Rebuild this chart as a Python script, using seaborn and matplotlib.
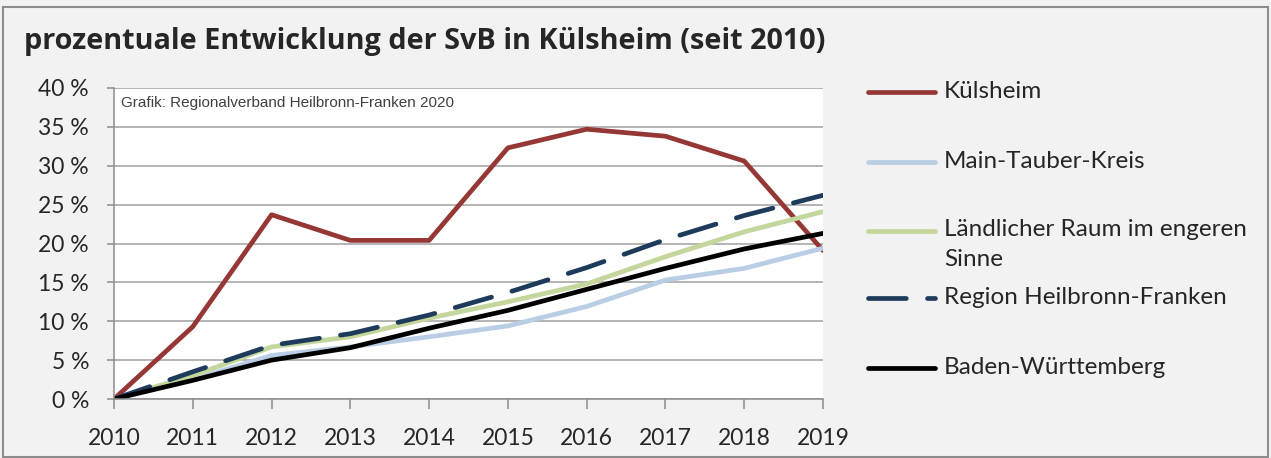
import pandas as pd
import matplotlib.pyplot as plt
import seaborn as sns
from matplotlib.lines import Line2D
from matplotlib.patches import Rectangle
from matplotlib.ticker import FuncFormatter

# values (percent change since 2010)
years = [2010, 2011, 2012, 2013, 2014, 2015, 2016, 2017, 2018, 2019]
kuelsheim = [0, 9.3, 23.7, 20.4, 20.4, 32.3, 34.7, 33.8, 30.6, 19.1]
main_tauber = [0, 2.5, 5.6, 6.7, 8.0, 9.4, 11.9, 15.3, 16.8, 19.4]
laendlich = [0, 3.0, 6.7, 8.0, 10.4, 12.5, 14.8, 18.3, 21.5, 24.1]
region_hnf = [0, 3.5, 6.9, 8.4, 10.8, 13.7, 16.9, 20.5, 23.6, 26.2]
bawue = [0, 2.4, 5.0, 6.6, 9.1, 11.4, 14.1, 16.8, 19.3, 21.3]

names = ['Külsheim', 'Main-Tauber-Kreis', 'Ländlicher Raum im engeren Sinne',
         'Region Heilbronn-Franken', 'Baden-Württemberg']
series = [kuelsheim, main_tauber, laendlich, region_hnf, bawue]
colors = ['#953735', '#b9cde5', '#c3d69b', '#1f3b5c', '#000000']

df = pd.concat([pd.DataFrame({'Jahr': years, 'Wert': vals, 'Gebiet': n})
                for n, vals in zip(names, series)])

sns.set_style('white')
plt.rcParams['font.family'] = ['Lato', 'DejaVu Sans']

fig = plt.figure(figsize=(12.71, 4.58), dpi=100, facecolor='#f2f2f2')
ax = fig.add_axes([114 / 1271, 1 - 399 / 458, (823 - 114) / 1271, (399 - 88) / 458])
ax.set_facecolor('white')

palette = dict(zip(names, colors))
dash_map = {n: '' for n in names}
dash_map['Region Heilbronn-Franken'] = (8, 4.5)
sns.lineplot(data=df, x='Jahr', y='Wert', hue='Gebiet', style='Gebiet',
             palette=palette, dashes=dash_map, linewidth=3.4, legend=False, ax=ax,
             solid_capstyle='round', dash_capstyle='round', solid_joinstyle='round')

ax.set_xlim(2010, 2019)
ax.set_ylim(0, 40)
ax.set_xticks(years)
ax.set_yticks(range(0, 41, 5))
ax.yaxis.set_major_formatter(FuncFormatter(lambda v, p: f'{int(v)} %'))
ax.grid(axis='y', color='#a0a0a0', linewidth=1.1)
ax.set_axisbelow(True)
ax.set_xlabel('')
ax.set_ylabel('')
for s in ['top', 'right']:
    ax.spines[s].set_visible(False)
for s in ['left', 'bottom']:
    ax.spines[s].set_color('#8c8c8c')
    ax.spines[s].set_linewidth(1.1)
ax.tick_params(axis='x', direction='out', length=7, width=1.1, color='#8c8c8c',
               labelsize=16.5, pad=14, bottom=True)
ax.tick_params(axis='y', direction='out', length=5, width=1.1, color='#8c8c8c',
               labelsize=16.5, pad=13, left=True)

ax.text(0.01, 0.975, 'Grafik: Regionalverband Heilbronn-Franken 2020',
        transform=ax.transAxes, ha='left', va='top', fontsize=11,
        color='#404040', family='Liberation Sans')

fig.text(24 / 1271, 1 - 42 / 458, 'prozentuale Entwicklung der SvB in Külsheim (seit 2010)',
         fontsize=20.8, fontweight='bold', ha='left', va='center',
         family=['Open Sans', 'DejaVu Sans'])

# legend drawn by hand to keep the Excel spacing
legend_labels = ['Külsheim', 'Main-Tauber-Kreis', 'Ländlicher Raum im engeren\nSinne',
                 'Region Heilbronn-Franken', 'Baden-Württemberg']
rows = [92, 162, 231, 298, 368]
for lab, col, y in zip(legend_labels, colors, rows):
    yf = 1 - y / 458
    ls = (0, (8, 4.5)) if lab.startswith('Region') else '-'
    fig.add_artist(Line2D([868 / 1271, 935 / 1271], [yf, yf], transform=fig.transFigure,
                          color=col, linewidth=3.4, linestyle=ls,
                          solid_capstyle='round', dash_capstyle='round'))
    if '\n' in lab:
        fig.text(944 / 1271, 1 - (y - 12) / 458, lab, fontsize=17.5, ha='left',
                 va='top', linespacing=1.5)
    else:
        fig.text(944 / 1271, yf, lab, fontsize=17.5, ha='left', va='center')

fig.add_artist(Rectangle((3 / 1271, 0.002), 1 - 6 / 1271, 1 - 8 / 458,
                         transform=fig.transFigure, fill=False,
                         edgecolor='#8c8c8c', linewidth=1.5))

fig.savefig('out.png', dpi=100, facecolor=fig.get_facecolor())
